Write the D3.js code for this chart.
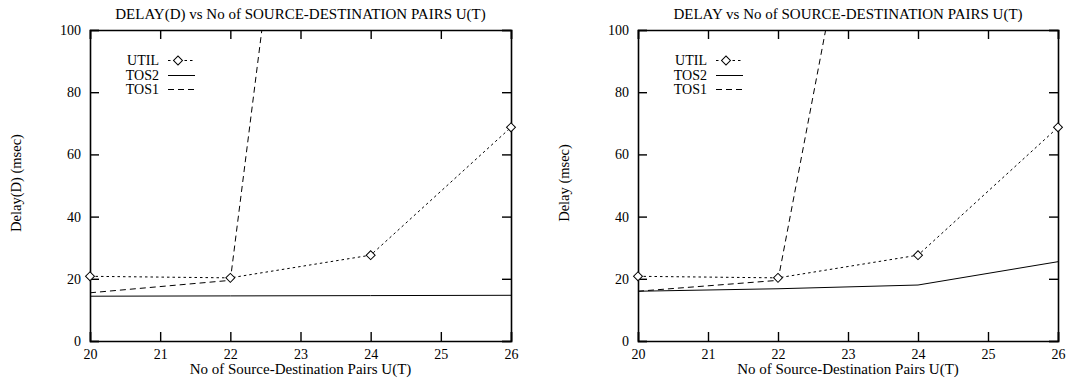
<!DOCTYPE html>
<html>
<head>
<meta charset="utf-8">
<script src="https://cdn.jsdelivr.net/npm/d3@7/dist/d3.min.js"></script>
<style>
  html, body { margin: 0; padding: 0; background: #fff; }
  svg text { font-family: "Liberation Serif", "Times New Roman", Times, serif; fill: #000; }
</style>
</head>
<body>
<svg id="chart" width="1068" height="381"></svg>
<script>
// ---- data ----
const xValues = [20, 22, 24, 26];
const xTicks = [20, 21, 22, 23, 24, 25, 26];
const yTicks = [0, 20, 40, 60, 80, 100];
const seriesNames = ["UTIL", "TOS2", "TOS1"];

const leftTitle = "DELAY(D) vs No of SOURCE-DESTINATION PAIRS U(T)";
const leftYLabel = "Delay(D) (msec)";
const leftUtil = [20.8, 20.3, 27.6, 68.7];
const leftTos2 = [14.4, 14.5, 14.6, 14.7];
const leftTos1 = [15.5, 19.5, 378, 900];

const rightTitle = "DELAY vs No of SOURCE-DESTINATION PAIRS U(T)";
const rightYLabel = "Delay (msec)";
const rightUtil = [20.8, 20.3, 27.6, 68.7];
const rightTos2 = [16.0, 16.8, 18.0, 25.5];
const rightTos1 = [16.0, 19.5, 256, 700];

const xLabel = "No of Source-Destination Pairs U(T)";

// ---- drawing ----
const svg = d3.select("#chart");
const FONT = '"Liberation Serif", "Times New Roman", Times, serif';
const styles = {
  UTIL: { dash: "2.5,3" },
  TOS2: { dash: null },
  TOS1: { dash: "6,4" }
};

function panel(opts) {
  const { left, right, top, bottom, title, yLabel, util, tos2, tos1, id, yLabelX } = opts;
  const x = d3.scaleLinear().domain([20, 26]).range([left, right]);
  const y = d3.scaleLinear().domain([0, 100]).range([bottom, top]);
  const g = svg.append("g");

  g.append("clipPath").attr("id", id).append("rect")
    .attr("x", left).attr("y", top).attr("width", right - left).attr("height", bottom - top);

  const fs = "14px";
  const ax = g.append("g").attr("transform", `translate(0,${bottom})`)
    .call(d3.axisBottom(x).tickValues(xTicks).tickSize(-9).tickPadding(8).tickFormat(d3.format("d")));
  const axT = g.append("g").attr("transform", `translate(0,${top})`)
    .call(d3.axisTop(x).tickValues(xTicks).tickSize(-9).tickFormat(""));
  const ay = g.append("g").attr("transform", `translate(${left},0)`)
    .call(d3.axisLeft(y).tickValues(yTicks).tickSize(-9).tickPadding(9).tickFormat(d3.format("d")));
  const ayR = g.append("g").attr("transform", `translate(${right},0)`)
    .call(d3.axisRight(y).tickValues(yTicks).tickSize(-9).tickFormat(""));
  [ax, axT, ay, ayR].forEach(a => {
    a.attr("font-family", FONT);
    a.selectAll("path.domain").attr("stroke", "#000").attr("stroke-width", 1.6);
    a.selectAll(".tick line").attr("stroke", "#000").attr("stroke-width", 1.4);
    a.selectAll("text").style("font-family", FONT).style("font-size", fs).attr("fill", "#000");
  });

  g.append("text").attr("x", (left + right) / 2).attr("y", 19).attr("text-anchor", "middle")
    .style("font-family", FONT).style("font-size", "15px").text(title);
  g.append("text").attr("x", (left + right) / 2).attr("y", 374).attr("text-anchor", "middle")
    .style("font-family", FONT).style("font-size", "15px").text(xLabel);
  g.append("text").attr("transform", `translate(${yLabelX},183) rotate(-90)`)
    .attr("text-anchor", "middle").style("font-family", FONT).style("font-size", "14.5px").text(yLabel);

  const line = d3.line().x((d, i) => x(xValues[i])).y(d => y(d));
  const plot = g.append("g").attr("clip-path", `url(#${id})`);
  const data = { UTIL: util, TOS2: tos2, TOS1: tos1 };
  ["TOS2", "TOS1", "UTIL"].forEach(name => {
    plot.append("path").datum(data[name]).attr("d", line)
      .attr("fill", "none").attr("stroke", "#000").attr("stroke-width", 1)
      .attr("stroke-dasharray", styles[name].dash);
  });
  g.selectAll(null).data(util).enter().append("path")
    .attr("d", d3.symbol().type(d3.symbolSquare).size(40))
    .attr("transform", (d, i) => `translate(${x(xValues[i])},${y(d)}) rotate(45)`)
    .attr("fill", "#fff").attr("stroke", "#000").attr("stroke-width", 1);

  const lgTextX = left + 69;
  const baselines = [65, 80, 94];
  seriesNames.forEach((name, i) => {
    const by = baselines[i];
    g.append("text").attr("x", lgTextX).attr("y", by).attr("text-anchor", "end")
      .style("font-family", FONT).style("font-size", "14px").text(name);
    const ly = by - 4.5;
    g.append("line").attr("x1", lgTextX + 9).attr("x2", lgTextX + 36).attr("y1", ly).attr("y2", ly)
      .attr("stroke", "#000").attr("stroke-width", 1).attr("stroke-dasharray", styles[name].dash);
    if (name === "UTIL") {
      g.append("path").attr("d", d3.symbol().type(d3.symbolSquare).size(40))
        .attr("transform", `translate(${lgTextX + 19},${ly}) rotate(45)`)
        .attr("fill", "#fff").attr("stroke", "#000").attr("stroke-width", 1);
    }
  });
}

panel({ id: "clipL", left: 90, right: 511, top: 30, bottom: 341, title: leftTitle, yLabel: leftYLabel,
  util: leftUtil, tos2: leftTos2, tos1: leftTos1, yLabelX: 21 });
panel({ id: "clipR", left: 638, right: 1058, top: 30, bottom: 341, title: rightTitle, yLabel: rightYLabel,
  util: rightUtil, tos2: rightTos2, tos1: rightTos1, yLabelX: 569 });
</script>
</body>
</html>
